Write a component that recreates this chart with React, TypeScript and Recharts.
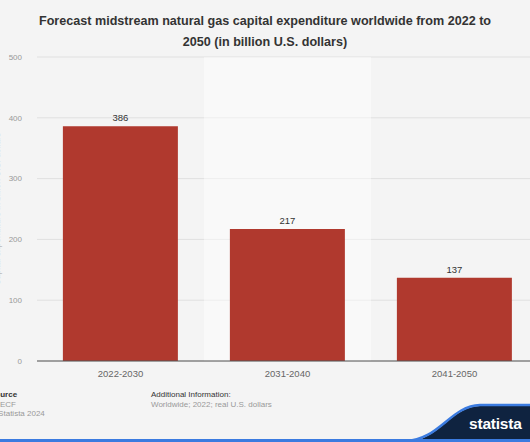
import React from "react";
import {
  BarChart,
  Bar,
  XAxis,
  YAxis,
  CartesianGrid,
  LabelList,
  ReferenceArea
} from "recharts";

const periods = ["2022-2030", "2031-2040", "2041-2050"];
const capex = [386, 217, 137];
const yTicks = [0, 100, 200, 300, 400, 500];
const highlighted = "2031-2040";

const data = periods.map((period, i) => ({ period, value: capex[i] }));

const font = "'Liberation Sans', Arial, Helvetica, sans-serif";

export default function App() {
  return (
    <div
      style={{
        position: "absolute",
        left: 0,
        top: 0,
        width: 530,
        height: 442,
        overflow: "hidden",
        background: "#f4f4f4",
        fontFamily: font
      }}
    >
      <div
        style={{
          position: "absolute",
          top: 11,
          left: 0,
          width: 530,
          textAlign: "center",
          fontSize: 12.6,
          lineHeight: "21px",
          fontWeight: 700,
          color: "#333"
        }}
      >
        Forecast midstream natural gas capital expenditure worldwide from 2022 to
        <br />
        2050 (in billion U.S. dollars)
      </div>

      <div style={{ position: "absolute", left: 0, top: 0 }}>
        <BarChart
          width={545}
          height={442}
          data={data}
          margin={{ top: 57, right: 7, bottom: 51, left: 0 }}
          barCategoryGap="15.5%"
        >
          <CartesianGrid vertical={false} stroke="#e0e0e0" />
          <ReferenceArea
            x1={highlighted}
            x2={highlighted}
            fill="#ffffff"
            fillOpacity={0.45}
            stroke="none"
          />
          <XAxis
            dataKey="period"
            axisLine={{ stroke: "#555" }}
            tickLine={false}
            tickSize={0}
            tickMargin={9}
            height={30}
            tick={{ fill: "#666", fontSize: 9.5, fontFamily: font }}
          />
          <YAxis
            width={37}
            domain={[0, 500]}
            ticks={yTicks}
            axisLine={false}
            tickLine={false}
            tickSize={0}
            tickMargin={15}
            tick={{ fill: "#999", fontSize: 8, fontFamily: font }}
            label={{
              value: "Capital expenditure in billion U.S. dollars",
              angle: -90,
              position: "insideLeft",
              offset: -3,
              style: { fill: "#bbb", fontSize: 8.5, fontFamily: font, textAnchor: "middle" }
            }}
          />
          <Bar dataKey="value" fill="#b0392e" isAnimationActive={false}>
            <LabelList
              dataKey="value"
              position="top"
              offset={5}
              style={{ fill: "#333", fontSize: 9.5, fontFamily: font }}
            />
          </Bar>
        </BarChart>
      </div>

      <div style={{ position: "absolute", left: -10, top: 390, fontSize: 8, lineHeight: "9.5px", color: "#999" }}>
        <div style={{ fontWeight: 700, color: "#333" }}>Source</div>
      </div>
      <div style={{ position: "absolute", left: 0, top: 399.5, fontSize: 8, lineHeight: "9.5px", color: "#999" }}>
        ECF
      </div>
      <div style={{ position: "absolute", left: -10, top: 409, fontSize: 8, lineHeight: "9.5px", color: "#999" }}>
        © Statista 2024
      </div>
      <div style={{ position: "absolute", left: 151, top: 390, fontSize: 8, lineHeight: "9.5px" }}>
        <div style={{ color: "#333" }}>Additional Information:</div>
        <div style={{ color: "#999" }}>Worldwide; 2022; real U.S. dollars</div>
      </div>

      <svg
        width={530}
        height={442}
        style={{ position: "absolute", left: 0, top: 0, pointerEvents: "none" }}
      >
        <path d="M405 442 C 440 441, 450 407, 480 406 L 530 406 L 530 442 Z" fill="#0f2340" />
        <path d="M405 441 C 440 440, 450 406, 480 405 L 530 405" fill="none" stroke="#3b7be0" strokeWidth={2.5} />
        <rect x={0} y={439} width={530} height={3} fill="#3b7be0" />
        <text
          x={469}
          y={429}
          fill="#ffffff"
          fontSize={15.5}
          fontWeight={700}
          letterSpacing={-0.2}
          fontFamily={font}
        >
          statista
        </text>
      </svg>
    </div>
  );
}
